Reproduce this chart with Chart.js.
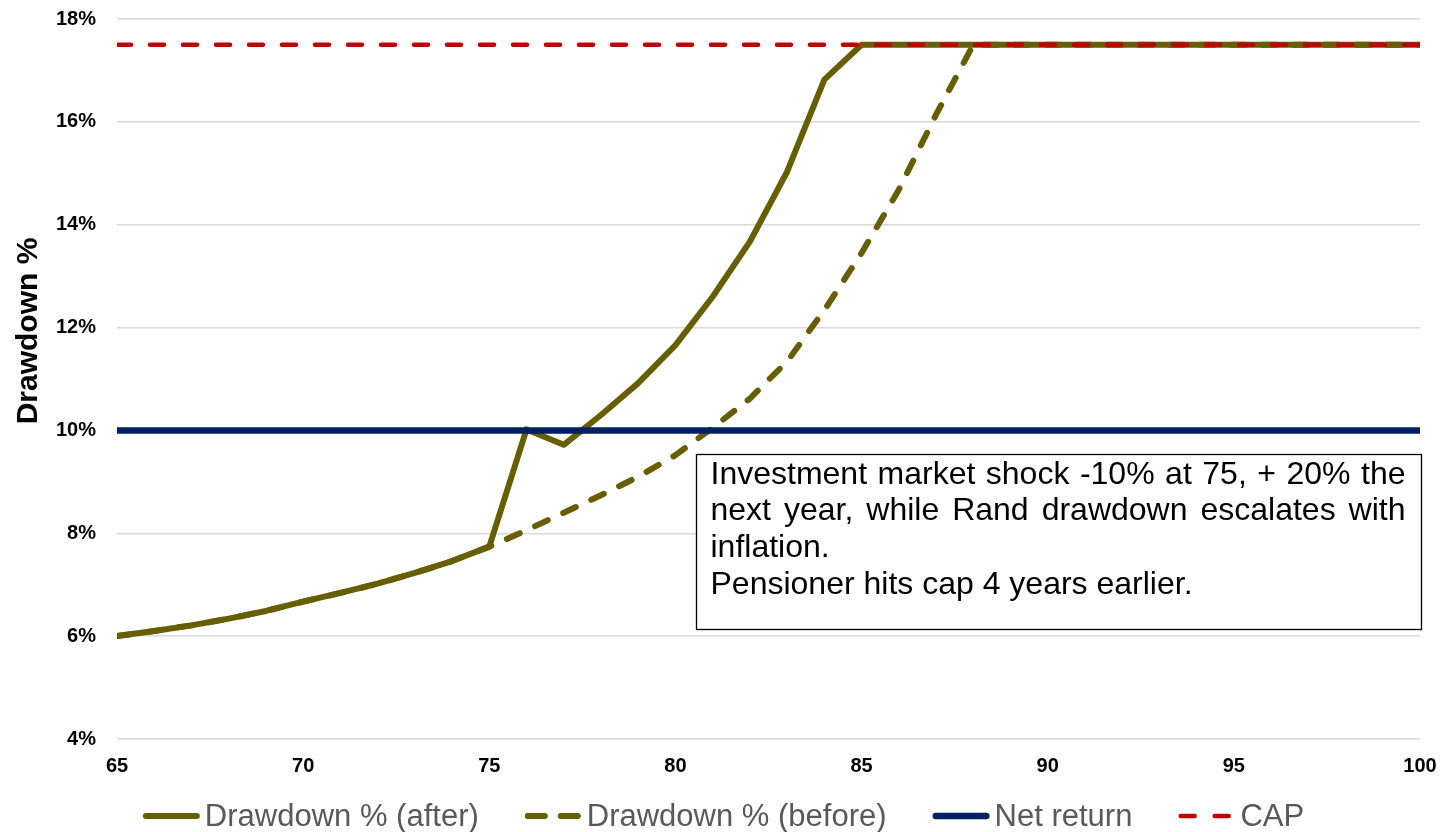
<!DOCTYPE html>
<html>
<head>
<meta charset="utf-8">
<script src="https://cdn.jsdelivr.net/npm/chart.js@4.4.1/dist/chart.umd.min.js"></script>
<style>
  html, body { margin: 0; padding: 0; background: #ffffff; }
  #wrap { width: 1447px; height: 832px; position: relative; }
</style>
</head>
<body>
<div id="wrap"><canvas id="chart" width="1447" height="832"></canvas></div>
<script>
// Pensioner age (x axis)
const ages = [65, 66, 67, 68, 69, 70, 71, 72, 73, 74, 75, 76, 77, 78, 79, 80, 81, 82,
              83, 84, 85, 86, 87, 88, 89, 90, 91, 92, 93, 94, 95, 96, 97, 98, 99, 100];

// Drawdown % with the market shock at 75
const drawdownAfter = [6.00, 6.10, 6.21, 6.34, 6.49, 6.67, 6.84, 7.02, 7.23, 7.46, 7.74,
                       10.02, 9.72, 10.30, 10.92, 11.66, 12.60, 13.67, 15.03, 16.82, 17.50,
                       17.50, 17.50, 17.50, 17.50, 17.50, 17.50, 17.50, 17.50, 17.50, 17.50,
                       17.50, 17.50, 17.50, 17.50, 17.50];

// Drawdown % without the shock
const drawdownBefore = [6.00, 6.10, 6.21, 6.34, 6.49, 6.67, 6.84, 7.02, 7.23, 7.46, 7.74,
                        8.06, 8.40, 8.74, 9.10, 9.52, 10.05, 10.62, 11.34, 12.34, 13.45,
                        14.68, 16.14, 17.50, 17.50, 17.50, 17.50, 17.50, 17.50, 17.50, 17.50,
                        17.50, 17.50, 17.50, 17.50, 17.50];

// Net investment return
const netReturn = [10, 10, 10, 10, 10, 10, 10, 10, 10, 10, 10, 10, 10, 10, 10, 10, 10, 10,
                   10, 10, 10, 10, 10, 10, 10, 10, 10, 10, 10, 10, 10, 10, 10, 10, 10, 10];

// Maximum drawdown rate
const drawdownCap = [17.5, 17.5, 17.5, 17.5, 17.5, 17.5, 17.5, 17.5, 17.5, 17.5, 17.5, 17.5,
                     17.5, 17.5, 17.5, 17.5, 17.5, 17.5, 17.5, 17.5, 17.5, 17.5, 17.5, 17.5,
                     17.5, 17.5, 17.5, 17.5, 17.5, 17.5, 17.5, 17.5, 17.5, 17.5, 17.5, 17.5];

const seriesLabels = ['Drawdown % (after)', 'Drawdown % (before)', 'Net return', 'CAP'];

const yTicks = [4, 6, 8, 10, 12, 14, 16, 18];
const xTicks = [65, 70, 75, 80, 85, 90, 95, 100];

const axisTitle = 'Drawdown %';
const noteLines = [
  'Investment market shock -10% at 75, + 20% the',
  'next year, while Rand drawdown escalates with',
  'inflation.',
  'Pensioner hits cap 4 years earlier.'
];
const noteJustified = [true, true, false, false];

const OLIVE = '#665E00';
const NAVY = '#002060';
const RED = '#C00000';
const FONT = '"Liberation Sans", Arial, Helvetica, sans-serif';

const toPoints = (vals) => ages.map((a, i) => ({ x: a, y: vals[i] }));

// Legend line samples (dash patterns tuned for short samples)
const legendSamples = [
  { dash: [] },
  { dash: [17, 16] },
  { dash: [] },
  { dash: [14, 20] }
];

const decorPlugin = {
  id: 'decor',
  afterDatasetsDraw(chart) {
    const ctx = chart.ctx;
    const xs = chart.scales.x, ys = chart.scales.y;

    // Note box
    const l = Math.round(xs.getPixelForValue(80.55)) + 0.5;
    const r = Math.round(xs.getPixelForValue(100)) + 1.5;
    const t = Math.round(ys.getPixelForValue(9.54)) + 0.5;
    const b = Math.round(ys.getPixelForValue(6.14)) + 0.5;
    ctx.save();
    ctx.fillStyle = '#ffffff';
    ctx.fillRect(l, t, r - l, b - t);
    ctx.strokeStyle = '#000000';
    ctx.lineWidth = 1.3;
    ctx.strokeRect(l, t, r - l, b - t);

    ctx.font = '32px ' + FONT;
    ctx.fillStyle = '#000000';
    ctx.textBaseline = 'alphabetic';
    ctx.textAlign = 'left';
    const left = l + 14, right = r - 16;
    const lineH = 36.7;
    noteLines.forEach((line, i) => {
      const y = t + 29 + i * lineH;
      if (noteJustified[i]) {
        const words = line.split(' ');
        const widths = words.map(w => ctx.measureText(w).width);
        const total = widths.reduce((s, w) => s + w, 0);
        const gap = (right - left - total) / (words.length - 1);
        let x = left;
        words.forEach((w, k) => { ctx.fillText(w, x, y); x += widths[k] + gap; });
      } else {
        ctx.fillText(line, left, y);
      }
    });
    ctx.restore();
  },
  afterDraw(chart) {
    const ctx = chart.ctx;

    // Rotated y axis title
    ctx.save();
    ctx.translate(29, 331);
    ctx.rotate(-Math.PI / 2);
    ctx.font = 'bold 30px ' + FONT;
    ctx.fillStyle = '#000000';
    ctx.textAlign = 'center';
    ctx.textBaseline = 'middle';
    ctx.fillText(axisTitle, 0, 0);
    ctx.restore();

    // Legend row
    ctx.save();
    ctx.font = '31px ' + FONT;
    const lineLen = 57, textGap = 5, itemGap = 46, yMid = 816;
    const items = chart.data.datasets.map((ds, i) => ({
      label: ds.label, color: ds.borderColor, width: ds.borderWidth,
      dash: legendSamples[i].dash, textW: ctx.measureText(ds.label).width
    }));
    const totalW = items.reduce((s, it) => s + lineLen + textGap + it.textW, 0) + itemGap * (items.length - 1);
    let x = (chart.width - totalW) / 2;
    items.forEach(it => {
      const cap = it.width / 2;
      ctx.beginPath();
      ctx.strokeStyle = it.color;
      ctx.lineWidth = it.width;
      ctx.lineCap = 'round';
      ctx.setLineDash(it.dash);
      ctx.moveTo(x + cap, yMid);
      ctx.lineTo(x + lineLen - cap, yMid);
      ctx.stroke();
      ctx.setLineDash([]);
      ctx.fillStyle = '#595959';
      ctx.textAlign = 'left';
      ctx.textBaseline = 'middle';
      ctx.fillText(it.label, x + lineLen + textGap, yMid + 1);
      x += lineLen + textGap + it.textW + itemGap;
    });
    ctx.restore();
  }
};

new Chart(document.getElementById('chart'), {
  type: 'line',
  data: {
    datasets: [
      { label: seriesLabels[0], data: toPoints(drawdownAfter), borderColor: OLIVE, backgroundColor: OLIVE,
        borderWidth: 6, borderJoinStyle: 'round', borderCapStyle: 'round', order: 4 },
      { label: seriesLabels[1], data: toPoints(drawdownBefore), borderColor: OLIVE, backgroundColor: OLIVE,
        borderWidth: 6, borderDash: [14, 17], borderCapStyle: 'round', borderJoinStyle: 'round', order: 3 },
      { label: seriesLabels[2], data: toPoints(netReturn), borderColor: NAVY, backgroundColor: NAVY,
        borderWidth: 6.5, order: 2 },
      { label: seriesLabels[3], data: toPoints(drawdownCap), borderColor: RED, backgroundColor: RED,
        borderWidth: 4.5, borderDash: [14, 19], borderCapStyle: 'round', order: 1 }
    ]
  },
  options: {
    responsive: false,
    devicePixelRatio: 1,
    animation: false,
    layout: { padding: { top: 19, right: 27, bottom: 53, left: 0 } },
    elements: { point: { radius: 0, hoverRadius: 0 }, line: { tension: 0 } },
    plugins: { legend: { display: false }, tooltip: { enabled: false } },
    scales: {
      x: {
        type: 'linear', min: xTicks[0], max: xTicks[xTicks.length - 1],
        afterBuildTicks: (s) => { s.ticks = xTicks.map(v => ({ value: v })); },
        afterFit: (s) => { s.height = 40; s.paddingLeft = 0; s.paddingRight = 0; },
        ticks: { color: '#000000', font: { family: FONT, size: 20, weight: 'bold' }, padding: 15, maxRotation: 0 },
        grid: { display: false, drawTicks: false },
        border: { display: false }
      },
      y: {
        min: yTicks[0], max: yTicks[yTicks.length - 1],
        afterBuildTicks: (s) => { s.ticks = yTicks.map(v => ({ value: v })); },
        afterFit: (s) => { s.width = 117; s.paddingTop = 0; s.paddingBottom = 0; },
        ticks: { color: '#000000', font: { family: FONT, size: 20, weight: 'bold' }, padding: 21,
                 callback: (v) => v + '%' },
        grid: { color: '#d9d9d9', lineWidth: 1.5, drawTicks: false },
        border: { display: false }
      }
    }
  },
  plugins: [decorPlugin]
});
</script>
</body>
</html>
